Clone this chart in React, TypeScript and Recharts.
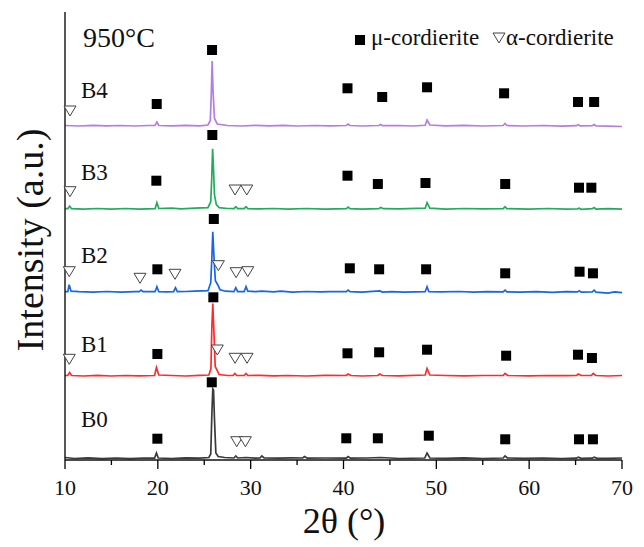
import { ComposedChart, Line, Scatter, XAxis, YAxis } from "recharts";

const FONT = "'Liberation Serif', 'Times New Roman', Times, serif";
const TXT = { fontFamily: FONT };

const SAMPLES = ["B0", "B1", "B2", "B3", "B4"];
const COLORS = ["#3a3a3a", "#ff2b2b", "#1666e8", "#20ad5c", "#b47ee0"];
const OFFSETS = [1, 83.5, 167.3, 250.3, 333.5];

// [2theta, relative intensity]
const B0 = [
  [10, 1.5], [11, 0.5], [12.5, 1.2], [14, 0.4], [15.5, 1], [17, 0.3], [18.5, 1], [19.65, 0.8],
  [19.85, 6], [20.05, 1], [21.5, 0.5], [23, 1.2], [24.5, 0.8], [25.5, 1.5], [25.7, 5], [25.82, 45],
  [25.92, 70], [26.0, 69], [26.1, 40], [26.25, 6], [26.5, 2.5], [27.2, 1.5], [28.2, 1], [28.4, 3],
  [28.6, 1], [29.5, 1.5], [30.5, 0.8], [31.0, 1], [31.2, 3], [31.45, 1], [33, 0.8], [34.5, 1.2],
  [35.6, 1], [35.8, 2.5], [36.1, 0.8], [38, 1], [40.3, 0.8], [40.5, 2.5], [40.75, 0.8], [42.5, 1],
  [44, 1.5], [46, 0.5], [48.75, 1], [49.0, 6], [49.3, 1], [51, 0.6], [53, 1.2], [55, 0.5],
  [57.2, 1], [57.4, 3], [57.65, 1], [59.5, 0.6], [61.5, 1], [63.5, 0.5], [65.1, 0.8], [65.3, 1.8],
  [65.6, 0.6], [66.8, 0.8], [67, 1.8], [67.3, 0.7], [68.5, 0.7], [70, 1],
];
const B1 = [
  [10, 1], [10.3, 1], [10.5, 4], [10.7, 1], [12, 0.5], [13.5, 1.2], [15, 0.5], [16.5, 1],
  [18, 0.6], [19.65, 1], [19.85, 9], [20.1, 1.5], [21.5, 1], [23, 0.5], [24.5, 1.2], [25.5, 1.5],
  [25.72, 8], [25.82, 50], [25.92, 73], [26.02, 50], [26.18, 10], [26.4, 6], [26.6, 2], [27.5, 1],
  [28.1, 1], [28.3, 3], [28.5, 1], [29.3, 1], [29.5, 3], [29.7, 1], [31, 1.2], [32.5, 0.6],
  [34, 1], [36, 0.5], [38, 1.2], [40.3, 1], [40.5, 2.5], [40.8, 1], [42, 0.5], [43.7, 1],
  [43.9, 2.5], [44.2, 1], [46, 0.7], [48.8, 1.5], [49.0, 8], [49.3, 1.5], [51, 1], [53, 0.6],
  [55, 1], [57.2, 1], [57.4, 3], [57.7, 1], [60, 0.6], [62, 1], [64, 0.8], [65.1, 1],
  [65.3, 2.5], [65.6, 1], [66.7, 1], [66.9, 3], [67.2, 1], [68.5, 0.5], [70, 1],
];
const B2 = [
  [10, 1], [10.3, 1], [10.45, 8], [10.65, 1.5], [11.5, 1], [13, 0.5], [14.5, 1.2], [16, 0.6],
  [17.5, 1], [18.0, 1], [18.2, 2.5], [18.4, 1], [19.7, 1], [19.9, 6], [20.1, 1], [21, 0.8],
  [21.7, 1], [21.9, 5], [22.1, 1], [23, 1.2], [24, 1.5], [25.4, 2], [25.7, 10], [25.82, 35],
  [25.92, 61], [26.0, 45], [26.08, 30], [26.2, 12], [26.45, 8], [26.7, 3], [27.3, 1.5], [28.2, 1],
  [28.4, 5], [28.6, 1], [29.3, 1], [29.5, 6], [29.7, 1.5], [30.5, 1], [31.2, 1.5], [32.5, 0.8],
  [33.2, 1.5], [34.5, 0.5], [36, 1.2], [37.5, 0.8], [38.5, 1], [40.3, 1], [40.5, 2.5], [40.7, 1],
  [42, 0.5], [43.9, 1.8], [44.2, 0.6], [45.2, 1], [46.5, 0.5], [48.8, 1], [49.0, 6], [49.2, 1],
  [50.5, 0.8], [52.5, 1.2], [54, 0.5], [55.5, 1], [57.2, 0.8], [57.4, 2.5], [57.6, 0.8], [59, 0.5],
  [60.8, 1], [62.5, 0.4], [64, 1], [65.2, 0.8], [65.4, 2], [65.6, 0.5], [66.8, 0.8], [67, 2.5],
  [67.2, 0.5], [68.5, -0.5], [69.2, 0.8], [70, 0],
];
const B3 = [
  [10, 1], [10.3, 1], [10.5, 3.5], [10.7, 1], [12, 0.6], [13.5, 1.2], [15, 0.5], [16.5, 1.2],
  [18, 0.6], [19.7, 1], [19.9, 7], [20.1, 1.2], [21.5, 1.5], [22.5, 0.8], [24, 1.5], [25.4, 2],
  [25.7, 8], [25.8, 30], [25.9, 61], [26.0, 40], [26.1, 15], [26.3, 5], [26.6, 2], [27.5, 1.2],
  [28.2, 1], [28.4, 3], [28.6, 1], [29.3, 1], [29.5, 3], [29.7, 1], [31, 0.8], [32.5, 1.2],
  [34, 0.5], [36, 1.2], [38, 0.6], [40.3, 1], [40.5, 2.5], [40.7, 1], [42, 0.6], [43.8, 1],
  [44, 2.2], [44.3, 1], [46, 0.8], [48.8, 1.5], [49.0, 7], [49.3, 1.5], [51, 0.6], [53, 1.2],
  [55, 0.8], [57.2, 1], [57.4, 3], [57.6, 1], [60, 0.5], [62, 1.2], [64, 0.6], [65.2, 0.8],
  [65.4, 1.5], [65.6, 0.4], [66.8, 1], [67, 2.2], [67.2, 0.6], [68.5, 1], [70, 0.5],
];
const B4 = [
  [10, 1], [11.5, 0.5], [13, 1.2], [14.5, 0.6], [16, 1], [17.5, 0.5], [19.0, 1], [19.7, 1],
  [19.9, 4.5], [20.1, 1], [21.5, 0.6], [23, 1.2], [24.5, 0.6], [25.4, 1.5], [25.65, 6], [25.75, 30],
  [25.85, 65.5], [25.95, 35], [26.1, 8], [26.4, 2.5], [27.5, 1], [29, 0.5], [30.5, 1.2], [32, 0.6],
  [33.5, 1.2], [35, 0.5], [37, 1], [38.5, 0.6], [40.3, 1], [40.5, 2.5], [40.7, 1], [42, 0.5],
  [43.8, 1], [44, 2], [44.2, 0.8], [46, 1], [47.5, 0.5], [48.8, 1.2], [49.0, 6.5], [49.3, 1.5],
  [51, 0.6], [53, 1.2], [55, 0.5], [57.2, 1], [57.4, 3], [57.6, 1], [59.5, 0.5], [61.5, 1],
  [63.5, 0.4], [65.1, 0.8], [65.3, 1.8], [65.5, 0.6], [66.8, 0.8], [67, 2], [67.2, 0.6], [68.5, 0.4],
  [70, 0],
];
const TRACES = [B0, B1, B2, B3, B4];

// phase markers: [2theta, height on the stacked scale]
const MU_CORDIERITE = [
  [25.84, 410], [19.88, 356], [40.43, 371.7], [44.17, 363], [49.0, 372.7], [57.3, 366.7], [65.26, 358], [67.0, 358],
  [25.87, 325], [19.84, 279.3], [40.43, 284.3], [43.7, 276], [48.83, 277], [57.42, 276], [65.37, 272.3], [66.7, 272.3],
  [26.03, 241], [19.95, 190.7], [40.68, 191.7], [43.84, 190.7], [48.9, 190.7], [57.42, 186.7], [65.43, 188.3], [66.87, 186.7],
  [25.98, 162.7], [19.95, 106], [40.43, 106.7], [43.84, 107.7], [49.0, 110.3], [57.52, 104.3], [65.26, 105.3], [66.76, 102],
  [25.81, 77.7], [19.95, 21.3], [40.3, 21.7], [43.7, 21.7], [49.19, 24.3], [57.42, 20.7], [65.37, 20.7], [66.87, 20.7],
];
const ALPHA_CORDIERITE = [
  [10.54, 349],
  [10.54, 268.3], [28.32, 270], [29.58, 270],
  [10.46, 188.3], [18.08, 181.7], [21.85, 185.7], [26.52, 194.3], [28.43, 187.3], [29.69, 188.3],
  [10.46, 100.7], [26.41, 110], [28.32, 101.7], [29.61, 101.7],
  [28.5, 18.3], [29.43, 18.3],
];
const LABEL_T = 11.72;
const LABEL_Y = [33.3, 108.3, 197.3, 280, 361.7];

const X_TICKS = [10, 15, 20, 25, 30, 35, 40, 45, 50, 55, 60, 65, 70];
const Y_DOMAIN = [0, 448];

const traceRows = TRACES.map((pts, k) => pts.map(([t, i]) => ({ t, y: OFFSETS[k] + i })));
const muRows = MU_CORDIERITE.map(([t, y]) => ({ t, y }));
const alphaRows = ALPHA_CORDIERITE.map(([t, y]) => ({ t, y }));
const labelRows = SAMPLES.map((name, k) => ({ t: LABEL_T, y: LABEL_Y[k], name }));

function XTick(props: any) {
  const { x, y, payload } = props;
  const major = payload.value % 10 === 0;
  return (
    <g>
      <line x1={x} x2={x} y1={y} y2={y + (major ? 9 : 5)} stroke="#000" strokeWidth={1.3} />
      {major && (
        <text x={x} y={y + 35} textAnchor="middle" fontSize={22} style={TXT} fill="#111">
          {payload.value}
        </text>
      )}
    </g>
  );
}

function SquareMark(props: any) {
  const { cx, cy } = props;
  return <rect x={cx - 5} y={cy - 5} width={10} height={10} fill="#000" />;
}

function TriangleMark(props: any) {
  const { cx, cy } = props;
  return (
    <polygon
      points={`${cx - 6},${cy - 5} ${cx + 6},${cy - 5} ${cx},${cy + 5}`}
      fill="#fff"
      stroke="#444"
      strokeWidth={1}
    />
  );
}

function SampleLabel(props: any) {
  const { cx, cy, payload } = props;
  return (
    <text x={cx} y={cy} fontSize={23} style={TXT} fill="#111">
      {payload.name}
    </text>
  );
}

export default function App() {
  return (
    <div style={{ position: "absolute", left: 0, top: 0, width: 644, height: 547, background: "#fff", fontFamily: FONT }}>
      <ComposedChart width={644} height={547} margin={{ top: 12, right: 22, bottom: 0, left: 0 }}>
        <XAxis
          type="number"
          dataKey="t"
          domain={[10, 70]}
          ticks={X_TICKS}
          interval={0}
          height={87}
          tickSize={0}
          tickMargin={0}
          tickLine={false}
          tick={<XTick />}
          axisLine={{ stroke: "#111", strokeWidth: 1.4 }}
        />
        <XAxis
          xAxisId="top"
          orientation="top"
          type="number"
          domain={[10, 70]}
          height={0}
          tick={false}
          tickLine={false}
          axisLine={{ stroke: "#111", strokeWidth: 1.4 }}
        />
        <YAxis
          type="number"
          dataKey="y"
          domain={Y_DOMAIN}
          width={65}
          tick={false}
          tickLine={false}
          axisLine={{ stroke: "#111", strokeWidth: 1.4 }}
        />
        <YAxis
          yAxisId="right"
          orientation="right"
          type="number"
          domain={Y_DOMAIN}
          width={0}
          tick={false}
          tickLine={false}
          axisLine={{ stroke: "#111", strokeWidth: 1.4 }}
        />
        {traceRows.map((rows, k) => (
          <Line
            key={SAMPLES[k]}
            data={rows}
            dataKey="y"
            type="linear"
            stroke={COLORS[k]}
            strokeWidth={1.7}
            dot={false}
            activeDot={false}
            isAnimationActive={false}
          />
        ))}
        <Scatter data={muRows} dataKey="y" shape={<SquareMark />} isAnimationActive={false} />
        <Scatter data={alphaRows} dataKey="y" shape={<TriangleMark />} isAnimationActive={false} />
        <Scatter data={labelRows} dataKey="y" shape={<SampleLabel />} isAnimationActive={false} />
      </ComposedChart>
      <svg width={644} height={547} style={{ position: "absolute", left: 0, top: 0, pointerEvents: "none" }}>
        <text x={83} y={47} fontSize={28} style={TXT} fill="#111">950°C</text>
        <rect x={355} y={35} width={10} height={10} fill="#000" />
        <text x={371} y={45} fontSize={23} style={TXT} fill="#111">μ-cordierite</text>
        <polygon points="493,33 505,33 499,43" fill="#fff" stroke="#444" strokeWidth={1} />
        <text x={506} y={45} fontSize={23} style={TXT} fill="#111">α-cordierite</text>
        <text x={344} y={533} fontSize={36} textAnchor="middle" style={TXT} fill="#111">2θ (°)</text>
        <text x={43} y={240} fontSize={38} textAnchor="middle" style={TXT} fill="#111" transform="rotate(-90 43 240)">
          Intensity (a.u.)
        </text>
      </svg>
    </div>
  );
}
